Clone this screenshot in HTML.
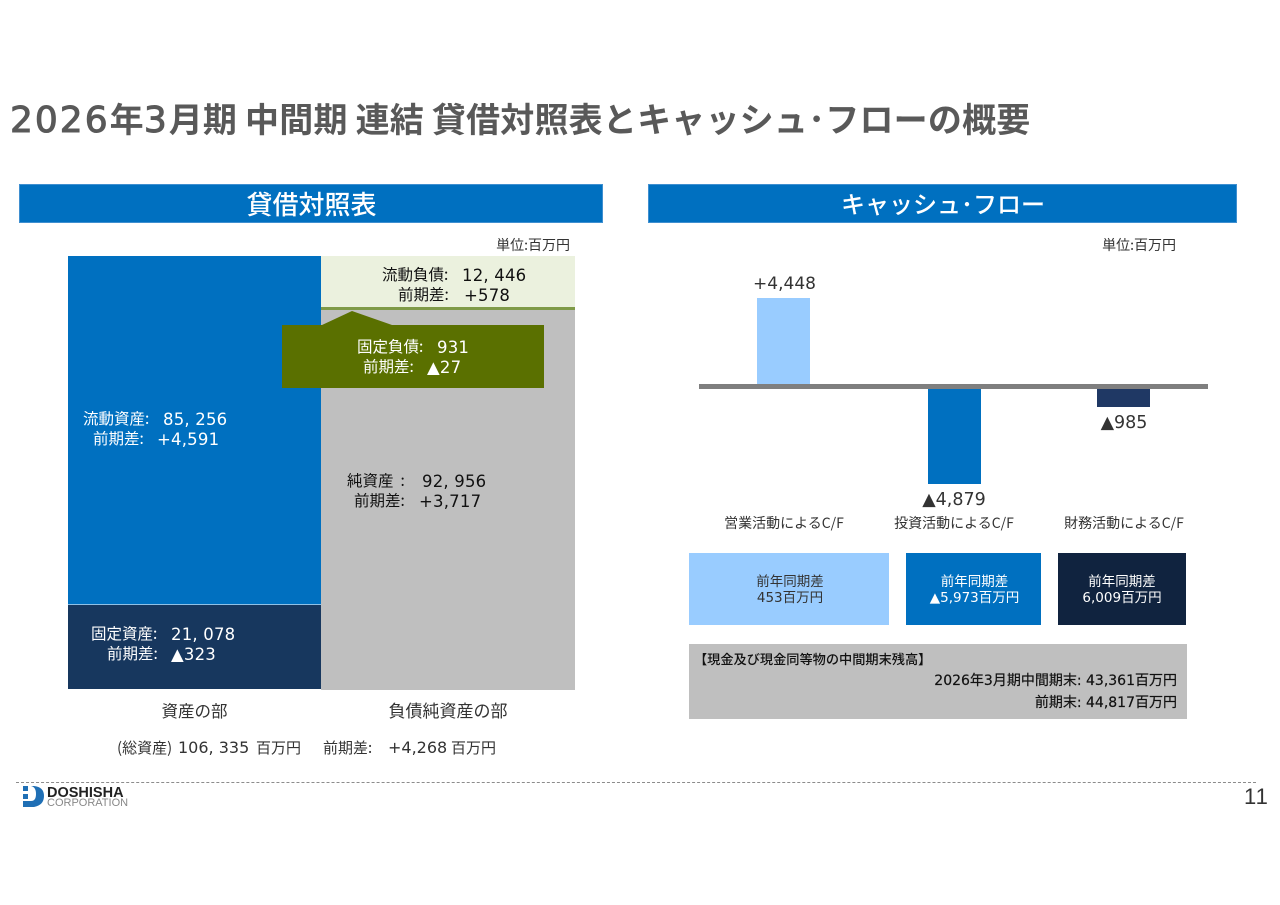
<!DOCTYPE html>
<html lang="ja"><head><meta charset="utf-8"><style>
html,body{margin:0;padding:0;background:#fff}
#p{position:relative;width:1280px;height:905px;overflow:hidden;background:#fff;font-family:"Liberation Sans","Noto Sans CJK JP",sans-serif;color:#333}
.b{position:absolute}
.t{position:absolute;white-space:pre;line-height:1;font-family:"DejaVu Sans","Noto Sans CJK JP",sans-serif}
.j{font-family:"Noto Sans CJK JP",sans-serif}
.c{transform:translateX(-50%);text-align:center}
.r{transform:translateX(-100%);text-align:right}
.w{color:#fff}.k{color:#111}
.n{font-size:16.5px;letter-spacing:.2px}
.l{font-size:15.5px}
.d{font-family:"DejaVu Sans",sans-serif;font-size:36px;letter-spacing:2px;-webkit-text-stroke:1px #595959;font-weight:normal}
</style></head><body><div id="p">
<div class="t j" style="left:10px;top:101px;font-size:34px;font-weight:700;color:#595959;letter-spacing:.2px"><span class="d">2026</span>年<span class="d">3</span>月期 中間期 連結 貸借対照表とキャッシュ･フローの概要</div>

<div class="b" style="left:19px;top:184px;width:584px;height:39px;background:#0070c0;box-shadow:0 0 0 1px #3f8fd0 inset"></div>
<div class="t w c j" style="left:311.5px;top:191px;font-size:26px;font-weight:500">貸借対照表</div>
<div class="b" style="left:648px;top:184px;width:589px;height:39px;background:#0070c0;box-shadow:0 0 0 1px #3f8fd0 inset"></div>
<div class="t w c j" style="left:943px;top:191px;font-size:24px;font-weight:500">キャッシュ･フロー</div>
<div class="t j r" style="left:570px;top:238px;font-size:14px">単位:百万円</div>
<div class="t j r" style="left:1176px;top:238px;font-size:14px">単位:百万円</div>

<div class="b" style="left:68px;top:256px;width:253px;height:348px;background:#0070c0"></div>
<div class="b" style="left:68px;top:604px;width:253px;height:1px;background:#8fc0e6"></div>
<div class="b" style="left:68px;top:605px;width:253px;height:84px;background:#17375e"></div>
<div class="b" style="left:321px;top:256px;width:254px;height:434px;background:#bfbfbf"></div>
<div class="b" style="left:321px;top:256px;width:254px;height:51px;background:#ebf1de"></div>
<div class="b" style="left:321px;top:307px;width:254px;height:3px;background:#7f9a48"></div>
<svg class="b" style="left:0;top:0" width="1280" height="905"><polygon points="282,325 322,325 352,311 392,325 544,325 544,388 282,388" fill="#5a7000"/></svg>

<div class="t k j l" style="left:382px;top:267px">流動負債: </div>
<div class="t k n" style="left:462px;top:268px">12, 446</div>
<div class="t k j l" style="left:398px;top:287px">前期差: </div>
<div class="t k n" style="left:464px;top:288px">+578</div>

<div class="t w j l" style="left:357px;top:339px">固定負債: </div>
<div class="t w n" style="left:437px;top:340px">931</div>
<div class="t w j l" style="left:363px;top:359px">前期差: </div>
<div class="t w n" style="left:427px;top:360px">▲27</div>

<div class="t w j l" style="left:83px;top:411px">流動資産: </div>
<div class="t w n" style="left:163px;top:412px">85, 256</div>
<div class="t w j l" style="left:93px;top:431px">前期差: </div>
<div class="t w n" style="left:157px;top:432px">+4,591</div>

<div class="t k j l" style="left:347px;top:473px">純資産  : </div>
<div class="t k n" style="left:422px;top:474px">92, 956</div>
<div class="t k j l" style="left:354px;top:493px">前期差: </div>
<div class="t k n" style="left:419px;top:494px">+3,717</div>

<div class="t w j l" style="left:91px;top:626px">固定資産: </div>
<div class="t w n" style="left:171px;top:627px">21, 078</div>
<div class="t w j l" style="left:107px;top:646px">前期差: </div>
<div class="t w n" style="left:171px;top:647px">▲323</div>

<div class="t j c" style="left:194.5px;top:702px;font-size:16.5px">資産の部</div>
<div class="t j c" style="left:448px;top:701px;font-size:17px">負債純資産の部</div>
<div class="t j" style="left:117px;top:740px;font-size:15px">(総資産)</div>
<div class="t" style="left:178px;top:740px;font-size:16px">106, 335</div>
<div class="t j" style="left:256px;top:740px;font-size:15px">百万円</div>
<div class="t j" style="left:323px;top:740px;font-size:15px">前期差:</div>
<div class="t" style="left:388px;top:740px;font-size:16px">+4,268</div>
<div class="t j" style="left:451px;top:740px;font-size:15px">百万円</div>

<div class="b" style="left:699px;top:384px;width:509px;height:5px;background:#7f7f7f"></div>
<div class="b" style="left:757px;top:298px;width:53px;height:86px;background:#99ccff"></div>
<div class="b" style="left:928px;top:389px;width:53px;height:95px;background:#0070c0"></div>
<div class="b" style="left:1097px;top:389px;width:53px;height:18px;background:#1f3864"></div>
<div class="t c" style="left:784.5px;top:276px;font-size:17px">+4,448</div>
<div class="t c" style="left:954px;top:492px;font-size:17.5px">▲4,879</div>
<div class="t c" style="left:1124px;top:415px;font-size:17.5px">▲985</div>
<div class="t j c" style="left:784px;top:516px;font-size:14px">営業活動によるC/F</div>
<div class="t j c" style="left:954px;top:516px;font-size:14px">投資活動によるC/F</div>
<div class="t j c" style="left:1124px;top:516px;font-size:14px">財務活動によるC/F</div>

<div class="b" style="left:689px;top:553px;width:200px;height:72px;background:#99ccff"></div>
<div class="b" style="left:906px;top:553px;width:135px;height:72px;background:#0070c0"></div>
<div class="b" style="left:1058px;top:553px;width:128px;height:72px;background:#10233f"></div>
<div class="t c" style="left:790px;top:574px;font-size:13.5px;line-height:16px">前年同期差
453百万円</div>
<div class="t c w" style="left:974.5px;top:574px;font-size:13.5px;line-height:16px">前年同期差
▲5,973百万円</div>
<div class="t c w" style="left:1122px;top:574px;font-size:13.5px;line-height:16px">前年同期差
6,009百万円</div>

<div class="b" style="left:689px;top:644px;width:498px;height:75px;background:#bfbfbf"></div>
<div class="t j k" style="left:694px;top:652px;font-size:13.2px;font-weight:500">【現金及び現金同等物の中間期末残高】</div>
<div class="t k r" style="left:1177px;top:674px;font-size:14px;-webkit-text-stroke:.2px #111">2026年3月期中間期末: 43,361百万円</div>
<div class="t k r" style="left:1177px;top:696px;font-size:14px;-webkit-text-stroke:.2px #111">前期末: 44,817百万円</div>

<div class="b" style="left:16px;top:782px;width:1240px;height:0;border-top:1px dashed #8c8c8c"></div>
<svg class="b" style="left:23px;top:786px" width="22" height="22" viewBox="0 0 22 22"><path d="M0 0h5v5H0zM0 8h5v5H0z" fill="#1f6fb5"/><path d="M0 15h8q5 0 5-7t-5-8h3q10 1 10 10t-10 11H0z" fill="#1f6fb5"/></svg>
<div class="t" style="left:47px;top:786px;font-size:14.5px;font-weight:bold;color:#222;font-family:'Liberation Sans',sans-serif">DOSHISHA</div>
<div class="t" style="left:47px;top:798px;font-size:11px;color:#888;font-family:'Liberation Sans',sans-serif">CORPORATION</div>
<div class="t" style="left:1244px;top:786px;font-size:22px;color:#333;font-family:'Liberation Sans',sans-serif;letter-spacing:1px">11</div>
</div></body></html>
